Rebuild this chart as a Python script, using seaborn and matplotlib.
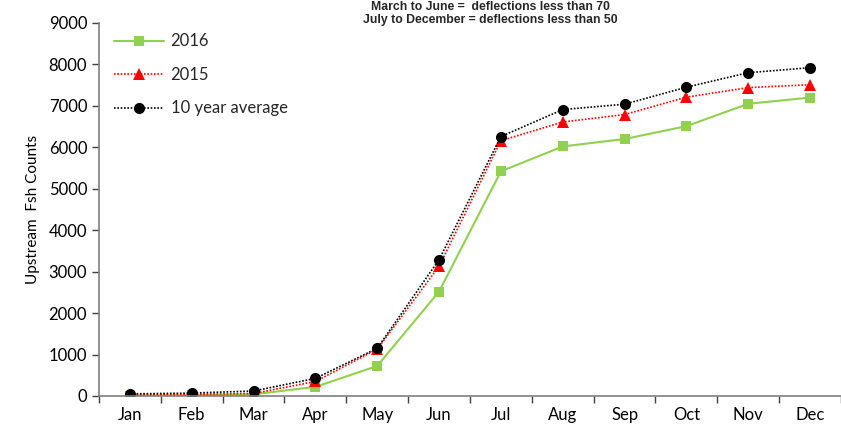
import numpy as np
import pandas as pd
import matplotlib
matplotlib.use("Agg")
import matplotlib.pyplot as plt
import seaborn as sns

# ----------------------------------------------------------
# DATA
# ----------------------------------------------------------

months = ["Jan", "Feb", "Mar", "Apr", "May", "Jun",
          "Jul", "Aug", "Sep", "Oct", "Nov", "Dec"]

counts_2016 = [5, 15, 40, 220, 725, 2520, 5420, 6020, 6200, 6510, 7050, 7200]
counts_2015 = [20, 40, 60, 350, 1130, 3130, 6160, 6610, 6790, 7210, 7440, 7510]
counts_10yr = [50, 70, 120, 425, 1150, 3290, 6260, 6910, 7040, 7450, 7800, 7920]

y_ticks = [0, 1000, 2000, 3000, 4000, 5000, 6000, 7000, 8000, 9000]

# ----------------------------------------------------------
# PLOT
# ----------------------------------------------------------

sns.set_style("white")
plt.rcParams["font.family"] = ["Lato", "DejaVu Sans"]

fig = plt.figure(figsize=(8.41, 4.33), dpi=100)
ax = fig.add_axes([0.1177, 0.0855, 0.8823, 0.8615])

x = np.arange(len(months))

sns.lineplot(x=x, y=counts_2016, ax=ax, color="#92d050", linestyle="-",
             marker="s", markersize=7, markeredgewidth=0, linewidth=1.5,
             label="2016")
sns.lineplot(x=x, y=counts_2015, ax=ax, color="#ff0000", linestyle=(0, (1, 1)),
             marker="^", markersize=8, markeredgewidth=0, linewidth=1.2,
             label="2015")
sns.lineplot(x=x, y=counts_10yr, ax=ax, color="black", linestyle=(0, (1, 1)),
             marker="o", markersize=8, markeredgewidth=0, linewidth=1.2,
             label="10 year average")

ax.set_xlim(-0.5, len(months) - 0.5)
ax.set_ylim(0, 9000)
ax.set_yticks(y_ticks)
ax.set_xticks(x)
ax.set_xticklabels(months, fontsize=12)
ax.set_xticks(np.arange(len(months) + 1) - 0.5, minor=True)
ax.tick_params(axis="x", which="major", length=0, pad=8, labelcolor="black")
ax.tick_params(axis="x", which="minor", length=5, width=1, color="#404040",
               direction="out", bottom=True)
ax.tick_params(axis="y", length=5, width=1, color="#404040", direction="out",
               left=True, labelsize=12, labelcolor="black")

for side in ["top", "right"]:
    ax.spines[side].set_visible(False)
for side in ["left", "bottom"]:
    ax.spines[side].set_color("#7f7f7f")
    ax.spines[side].set_linewidth(1.2)

ax.set_ylabel("Upstream  Fsh Counts", fontsize=11, color="black", labelpad=6)

ax.legend(loc="upper left", bbox_to_anchor=(0.0, 1.012), frameon=False,
          fontsize=12, handlelength=3.0, handletextpad=0.4,
          labelspacing=1.05)

fig.text(0.583, 0.997,
         "March to June =  deflections less than 70\n"
         "July to December = deflections less than 50",
         ha="center", va="top", fontsize=8.8, fontweight="bold",
         family=["Liberation Sans", "DejaVu Sans"], linespacing=1.05)

fig.savefig("out.png", dpi=100)
